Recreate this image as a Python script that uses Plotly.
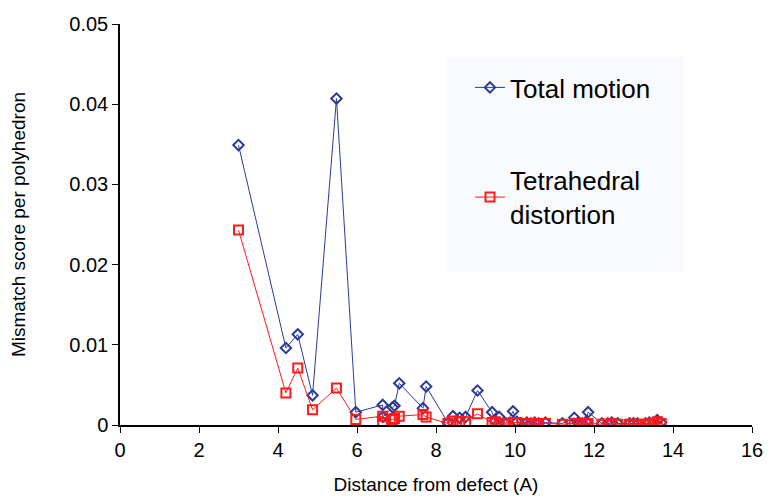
import plotly.graph_objects as go

distance = [3.0, 4.2, 4.5, 4.875, 5.48, 5.97, 6.65, 6.65, 6.9, 6.95, 7.07, 7.67, 7.75,
            8.3, 8.43, 8.6, 8.75, 9.05, 9.42, 9.5, 9.6, 9.77, 9.95, 10.05, 10.3, 10.4,
            10.5, 10.6, 10.77, 11.2, 11.5, 11.6, 11.7, 11.8, 11.85, 12.2, 12.35, 12.45,
            12.6, 12.9, 13.0, 13.1, 13.3, 13.4, 13.5, 13.6, 13.7]

total_motion = [0.0349, 0.0096, 0.0113, 0.0037, 0.0407, 0.0016, 0.0025, 0.0010, 0.0022,
                0.0024, 0.0052, 0.0021, 0.0048, 0.0003, 0.0011, 0.0009, 0.0010, 0.0043,
                0.0016, 0.0005, 0.0010, 0.0002, 0.0017, 0.0004, 0.0003, 0.0002, 0.0003,
                0.0002, 0.0003, 0.0002, 0.0009, 0.0003, 0.0002, 0.0004, 0.0016, 0.0002,
                0.0002, 0.0003, 0.0002, 0.0002, 0.0002, 0.0002, 0.0002, 0.0003, 0.0002,
                0.0006, 0.0003]

tetrahedral = [0.0243, 0.0040, 0.0071, 0.0019, 0.0046, 0.0007, 0.0011, 0.0003, 0.0007,
               0.0008, 0.0011, 0.0013, 0.0010, 0.0002, 0.0005, 0.0004, 0.0004, 0.0014,
               0.0003, 0.0004, 0.0002, 0.0001, 0.0003, 0.0003, 0.0002, 0.0001, 0.0002,
               0.0001, 0.0002, 0.0001, 0.0002, 0.0001, 0.0001, 0.0002, 0.0002, 0.0001,
               0.0001, 0.0002, 0.0001, 0.0001, 0.0001, 0.0001, 0.0001, 0.0002, 0.0001,
               0.0004, 0.0002]

x_ticks = [0, 2, 4, 6, 8, 10, 12, 14, 16]
y_ticks = [0, 0.01, 0.02, 0.03, 0.04, 0.05]
y_tick_labels = ["0", "0.01", "0.02", "0.03", "0.04", "0.05"]

FONT = "Liberation Sans, Arial, sans-serif"
BLUE = "#2b3a98"
RED = "#ff1a1a"

PW = 632  # plot width in px
PH = 401  # plot height in px

fig = go.Figure()
fig.add_trace(go.Scatter(
    x=distance, y=total_motion, mode="lines+markers", name="Total motion",
    legendgroup="a",
    line=dict(color=BLUE, width=1),
    marker=dict(symbol="diamond-open", size=8, color=BLUE, line=dict(width=2, color=BLUE)),
))
fig.add_trace(go.Scatter(
    x=distance, y=tetrahedral, mode="lines+markers", name="Tetrahedral<br>distortion",
    legendgroup="b",
    line=dict(color=RED, width=1),
    marker=dict(symbol="square-open", size=9, color=RED, line=dict(width=2, color=RED)),
))

fig.add_shape(type="rect", xref="paper", yref="paper",
              x0=(446 - 120) / PW, x1=(684 - 120) / PW,
              y0=(425 - 272) / PH, y1=(425 - 57) / PH,
              fillcolor="#f9fafe", line=dict(width=0), layer="below")

fig.update_layout(
    width=756, height=487,
    margin=dict(l=112, r=12, t=16, b=70),
    paper_bgcolor="white", plot_bgcolor="white",
    font=dict(family=FONT, color="black"),
    showlegend=True,
    legend=dict(
        x=(470 - 120) / PW, y=(425 - 64) / PH, xanchor="left", yanchor="top",
        bgcolor="rgba(0,0,0,0)", font=dict(size=26, family=FONT),
        tracegroupgap=56, traceorder="grouped",
    ),
    xaxis=dict(
        range=[0, 16], tickvals=x_ticks, showgrid=False, zeroline=False,
        showline=True, linecolor="black", linewidth=1.5, automargin=False,
        ticks="outside", ticklen=6, tickcolor="black", ticklabeloverflow="allow",
        tickfont=dict(size=20, family=FONT),
        title=dict(text="Distance from defect (A)", font=dict(size=19, family=FONT), standoff=20),
    ),
    yaxis=dict(
        range=[0, 0.05], tickvals=y_ticks, ticktext=y_tick_labels, showgrid=False,
        zeroline=False, showline=True, linecolor="black", linewidth=1.5, automargin=False,
        ticks="outside", ticklen=6, tickcolor="black",
        tickfont=dict(size=20, family=FONT),
        title=dict(text="Mismatch score per polyhedron", font=dict(size=19, family=FONT), standoff=46),
    ),
)

fig.write_html("out.html")
